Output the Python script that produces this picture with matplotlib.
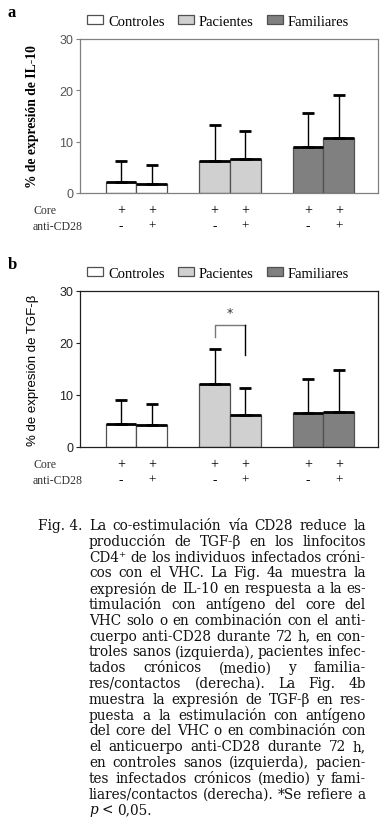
import matplotlib
matplotlib.use("Agg")
import matplotlib.pyplot as plt
import numpy as np

# data
groups = ["Controles", "Pacientes", "Familiares"]
colors = ["white", "#d0d0d0", "#808080"]

il10_mean = [[2.2, 1.7], [6.3, 6.6], [8.9, 10.8]]
il10_top = [[6.3, 5.4], [13.3, 12.0], [15.5, 19.1]]

tgf_mean = [[4.5, 4.2], [12.1, 6.1], [6.5, 6.7]]
tgf_top = [[9.0, 8.3], [18.8, 11.3], [13.1, 14.8]]

core_row = ["+", "+"]
cd28_row = ["-", "+"]

caption = [
    "La co-estimulación vía CD28 reduce la",
    "producción de TGF-β en los linfocitos",
    "CD4⁺ de los individuos infectados cróni-",
    "cos con el VHC. La Fig. 4a muestra la",
    "expresión de IL-10 en respuesta a la es-",
    "timulación con antígeno del core del",
    "VHC solo o en combinación con el anti-",
    "cuerpo anti-CD28 durante 72 h, en con-",
    "troles sanos (izquierda), pacientes infec-",
    "tados crónicos (medio) y familia-",
    "res/contactos (derecha). La Fig. 4b",
    "muestra la expresión de TGF-β en res-",
    "puesta a la estimulación con antígeno",
    "del core del VHC o en combinación con",
    "el anticuerpo anti-CD28 durante 72 h,",
    "en controles sanos (izquierda), pacien-",
    "tes infectados crónicos (medio) y fami-",
    "liares/contactos (derecha). *Se refiere a",
    "p < 0,05.",
]

W, H = 383, 820
BW = 0.33


def fy(py):
    return 1 - py / H


def fx(px):
    return px / W


def panel(fig, top, bottom, means, tops, ylabel, letter, frame, tickcol, ylab_font):
    ax = fig.add_axes([fx(80), fy(bottom), fx(378) - fx(80), (bottom - top) / H])
    for gi, name in enumerate(groups):
        xs = np.array([gi + 1 - BW / 2, gi + 1 + BW / 2])
        m = np.array(means[gi])
        t = np.array(tops[gi])
        ax.bar(xs, m, width=BW, color=colors[gi], edgecolor="#505050",
               linewidth=0.9, label=name, zorder=2)
        ax.hlines(m, xs - BW / 2, xs + BW / 2, color="black", lw=2, zorder=3)
        ax.errorbar(xs, m, yerr=[np.zeros(2), t - m], fmt="none", ecolor="black",
                    elinewidth=1, capsize=4, capthick=2, zorder=4)
        # Core / anti-CD28 rows
        for xi, c, d in zip(xs, core_row, cd28_row):
            x_px = 80 + (xi - 0.396) / (3.583 - 0.396) * 298
            fig.text(fx(x_px), fy(bottom + 17), c, ha="center", va="center",
                     family="Liberation Serif", fontsize=10)
            fig.text(fx(x_px), fy(bottom + 33), d, ha="center", va="center",
                     family="Liberation Serif", fontsize=9.5)
    fig.text(fx(33), fy(bottom + 17), "Core", ha="left", va="center",
             family="Liberation Serif", fontsize=8.5, color="#333333")
    fig.text(fx(33), fy(bottom + 33), "anti-CD28", ha="left", va="center",
             family="Liberation Serif", fontsize=8.5, color="#333333")

    ax.set_xlim(0.396, 3.583)
    ax.set_ylim(0, 30)
    ax.set_xticks([])
    ax.set_yticks([0, 10, 20, 30])
    ax.tick_params(axis="y", direction="out", length=3, width=0.8, color=frame,
                   labelsize=9, labelcolor=tickcol, pad=2)
    for lab in ax.get_yticklabels():
        lab.set_family("Liberation Sans")
    for sp in ax.spines.values():
        sp.set_color(frame)
        sp.set_linewidth(0.9)
    ax.set_ylabel(ylabel, **ylab_font)
    ax.yaxis.set_label_coords((39 - 80) / 298, 0.5)

    fig.text(fx(8), fy(top - 27), letter, ha="left", va="center",
             family="Liberation Serif", fontweight="bold", fontsize=12)
    fig.legend(*ax.get_legend_handles_labels(), loc="center", ncol=3,
               bbox_to_anchor=(fx(218), fy(top - 18)), frameon=False,
               handlelength=1.1, handleheight=0.55, handletextpad=0.35,
               columnspacing=0.9, borderaxespad=0,
               prop={"family": "Liberation Serif", "size": 10.5})
    return ax


fig = plt.figure(figsize=(W / 100, H / 100), dpi=100)

panel(fig, 40, 194, il10_mean, il10_top, "% de expresión de IL-10", "a",
      "#808080", "#555555",
      dict(family="Liberation Serif", fontweight="bold", fontsize=9.8))

axb = panel(fig, 292, 448, tgf_mean, tgf_top, "% de expresión de TGF-β", "b",
            "#202020", "#222222",
            dict(family="Liberation Sans", fontsize=9.5))

# significance bracket between Pacientes bars
bx = [2 - BW / 2, 2 + BW / 2]
axb.plot([bx[0], bx[0], bx[1]], [21.2, 23.4, 23.4], color="#777777", lw=1)
axb.plot([bx[1], bx[1]], [23.4, 17.7], color="black", lw=1)
axb.text(2, 25.9, "*", ha="center", va="center", fontsize=9, color="#333333")

# caption, justified; pick the largest size where every line still fits
renderer = fig.canvas.get_renderer()
left, right = 89, 366
cap_family = ["DejaVu Serif", "Liberation Serif"]
size = 10.0
while True:
    worst = 1e9
    for line in caption[:-1]:
        words = line.split(" ")
        probe = [fig.text(0, 0, w, family=cap_family, fontsize=size) for w in words]
        tot = sum(p.get_window_extent(renderer).width for p in probe)
        for p in probe:
            p.remove()
        worst = min(worst, (right - left - tot) / max(len(words) - 1, 1))
    if worst >= size * 0.3 or size < 6:
        break
    size -= 0.1

cap_font = dict(family=cap_family, fontsize=size, color="#111111")
fig.text(fx(38), fy(526), "Fig. 4.", ha="left", va="center", **cap_font)
for i, line in enumerate(caption):
    y = fy(526 + i * 15.8)
    words = line.split(" ")
    objs = []
    for j, w in enumerate(words):
        style = "italic" if (i == len(caption) - 1 and j == 0) else "normal"
        objs.append(fig.text(0, y, w, ha="left", va="center", style=style, **cap_font))
    widths = [o.get_window_extent(renderer).width for o in objs]
    if i == len(caption) - 1 or len(words) == 1:
        gap = renderer.points_to_pixels(size) * 0.3
    else:
        gap = (right - left - sum(widths)) / (len(words) - 1)
    x = left
    for o, wd in zip(objs, widths):
        o.set_x(fx(x))
        x += wd + gap

fig.savefig("out.png", dpi=100)
